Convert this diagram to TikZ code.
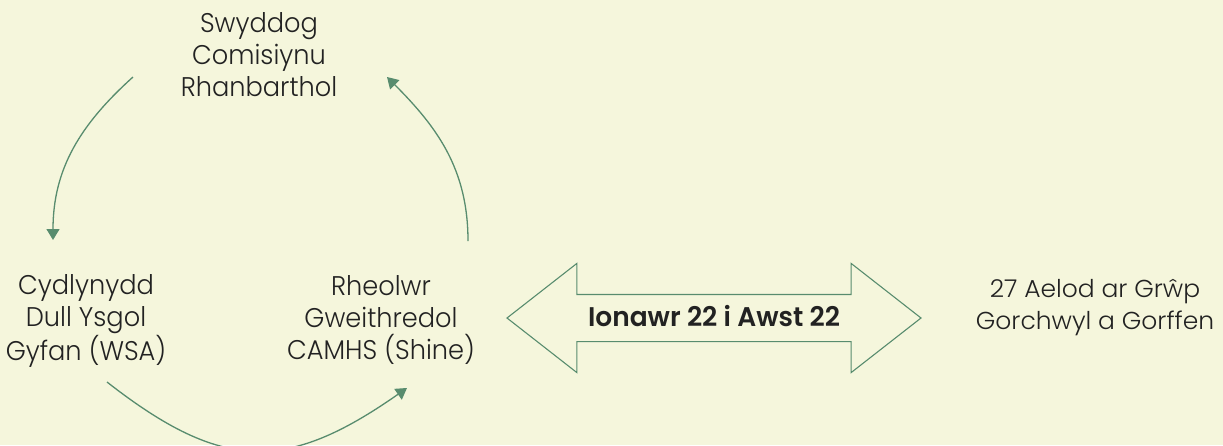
\documentclass[tikz,border=0pt]{standalone}
\usepackage{fontspec}
\setmainfont{Poppins}[UprightFont=* Light, BoldFont=* SemiBold, FakeStretch=0.95]
\newfontfamily\boldfont{Poppins}[UprightFont=* SemiBold, FakeStretch=0.98]
\newfontfamily\widefont{Poppins}[UprightFont=* Light, FakeStretch=1.02]
\usetikzlibrary{arrows.meta,shapes.arrows}
\definecolor{bgcream}{RGB}{245,246,220}
\definecolor{arcgreen}{RGB}{88,140,110}
\definecolor{inkgrey}{RGB}{34,34,34}
\begin{document}
\begin{tikzpicture}[x=1pt, y=-1pt, node font=\fontsize{27}{32}\selectfont,
  role/.style={align=center, inner sep=0pt, text=inkgrey},
  cycle arc/.style={arcgreen, line width=1.3pt,
    -{Triangle[length=11pt,width=13pt]}},
  period/.style={double arrow, draw=arcgreen, line width=1.1pt,
    double arrow tip angle=76, double arrow head extend=31pt,
    minimum height=414pt, text height=17pt, text depth=0pt,
    inner xsep=0pt, inner ysep=14.5pt, text=inkgrey,
    font=\boldfont\fontsize{27}{32}\selectfont}]
  % canvas
  \fill [bgcream] (0,0) rectangle (1223,445);
  \useasboundingbox (0,0) rectangle (1223,445);
  % roles
  \node [role] (officer) at (259,55) {Swyddog\\Comisiynu\\Rhanbarthol};
  \node [role] (wsa) at (86,321) {Cydlynydd\\Dull Ysgol\\Gyfan (WSA)};
  \node [role] (camhs) at (381,320) {Rheolwr\\Gweithredol\\CAMHS (Shine)};
  % cycle arcs
  \coordinate (a1) at (133,77);
  \coordinate (a2) at (53,240);
  \coordinate (b1) at (107,382);
  \coordinate (b2) at (407,388);
  \coordinate (c1) at (468,241);
  \coordinate (c2) at (387,77);
  \foreach \from/\to/\o/\i/\l in {a1/a2/222/90/1, b1/b2/-38/215/1.25,
      c1/c2/90/-45/1}
    \draw [cycle arc] (\from) to [out=\o, in=\i, looseness=\l] (\to);
  % period and group
  \node [period] (period) at (714,318) {Ionawr 22 i Awst 22};
  \node [role, font=\widefont\fontsize{24.5}{32}\selectfont] (group)
    at (1095,308) {27 Aelod ar Grŵp\\Gorchwyl a Gorffen};
\end{tikzpicture}
\end{document}
